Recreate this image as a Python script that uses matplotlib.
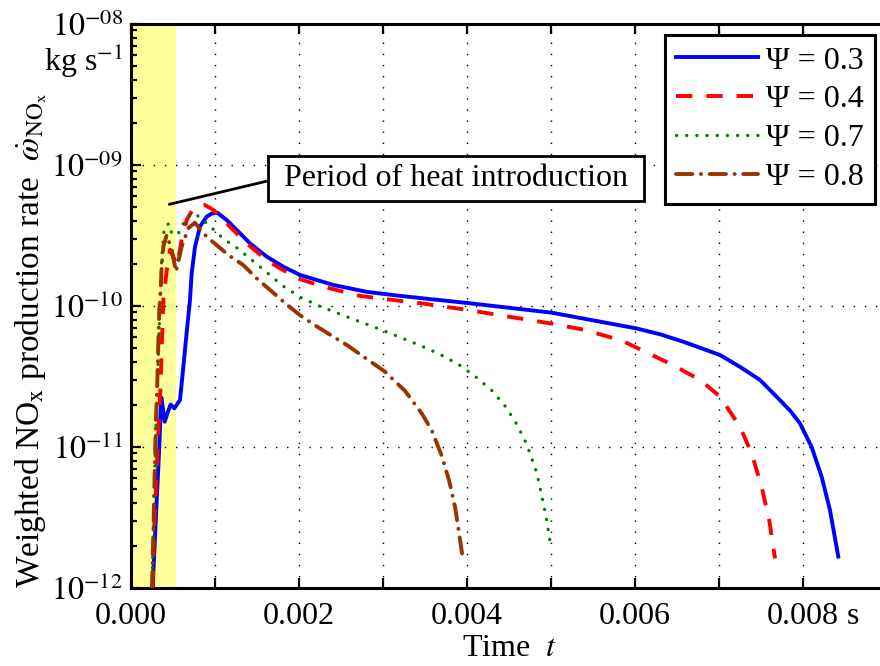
import numpy as np
import matplotlib
matplotlib.use("Agg")
import matplotlib.pyplot as plt
from matplotlib.ticker import FixedLocator, LogLocator, NullFormatter

plt.rcParams["font.family"] = ["Liberation Serif", "DejaVu Serif"]
plt.rcParams["mathtext.fontset"] = "stix"

# values (time in s, rate in kg/s)
t_03 = [0.000258, 0.000306, 0.000337, 0.000357, 0.000362, 0.000401, 0.000440, 0.000472,
        0.000516, 0.000583, 0.000623, 0.000663, 0.000702, 0.000722, 0.000762, 0.000821,
        0.000901, 0.000960, 0.001028, 0.001139, 0.001298, 0.001417, 0.001615, 0.001813,
        0.002012, 0.002409, 0.002806, 0.003202, 0.004004, 0.005008, 0.006008, 0.006300,
        0.006575, 0.007012, 0.007250, 0.007488, 0.007726, 0.007850, 0.007964, 0.008103,
        0.008222, 0.008321, 0.008420]
w_03 = [1.0e-12, 4.2e-12, 1.0e-11, 2.15e-11, 2.24e-11, 1.51e-11, 1.78e-11, 2.0e-11,
        1.88e-11, 2.15e-11, 3.7e-11, 6.5e-11, 1.1e-10, 1.7e-10, 2.63e-10, 3.66e-10,
        4.3e-10, 4.52e-10, 4.59e-10, 4.07e-10, 3.28e-10, 2.78e-10, 2.24e-10, 1.9e-10,
        1.66e-10, 1.41e-10, 1.26e-10, 1.18e-10, 1.05e-10, 8.97e-11, 6.95e-11, 6.3e-11,
        5.58e-11, 4.49e-11, 3.7e-11, 2.99e-11, 2.15e-11, 1.8e-11, 1.47e-11, 1.0e-11,
        6.15e-12, 3.57e-12, 1.67e-12]

t_04 = [0.000258, 0.000274, 0.000325, 0.000353, 0.000365, 0.000385, 0.000425, 0.000464,
        0.000551, 0.000603, 0.000663, 0.000742, 0.000881, 0.000980, 0.001099, 0.001377,
        0.001615, 0.001774, 0.002012, 0.002290, 0.002726, 0.003024, 0.003480, 0.003996,
        0.004552, 0.005008, 0.005385, 0.005841, 0.006008, 0.006456, 0.006774, 0.007012,
        0.007250, 0.007389, 0.007508, 0.007599, 0.007667]
w_04 = [1.02e-12, 2.45e-12, 1.26e-11, 2.83e-11, 4.9e-11, 1.1e-10, 1.78e-10, 2.5e-10,
        1.95e-10, 2.94e-10, 4.07e-10, 4.93e-10, 5.2e-10, 4.8e-10, 4.07e-10, 2.78e-10,
        2.12e-10, 1.85e-10, 1.55e-10, 1.37e-10, 1.18e-10, 1.12e-10, 1.04e-10, 9.4e-11,
        8.3e-11, 7.5e-11, 6.8e-11, 5.7e-11, 5.1e-11, 3.8e-11, 2.99e-11, 2.28e-11,
        1.39e-11, 9.0e-12, 5.2e-12, 3.0e-12, 1.62e-12]

t_07 = [0.000250, 0.000278, 0.000306, 0.000333, 0.000365, 0.000397, 0.000456, 0.000484,
        0.000530, 0.000583, 0.000631, 0.000714, 0.000821, 0.000920, 0.001012, 0.001111,
        0.001206, 0.001317, 0.001417, 0.001607, 0.001806, 0.002020, 0.002242, 0.002500,
        0.002718, 0.002964, 0.003202, 0.003440, 0.003670, 0.003897, 0.004103, 0.004294,
        0.004460, 0.004595, 0.004710, 0.004833, 0.004940, 0.005000]
w_07 = [1.0e-12, 5.5e-12, 1.88e-11, 6.4e-11, 2.18e-10, 3.65e-10, 3.85e-10, 3.28e-10,
        3.16e-10, 3.37e-10, 3.96e-10, 4.54e-10, 4.3e-10, 3.75e-10, 3.37e-10, 2.94e-10,
        2.74e-10, 2.43e-10, 2.17e-10, 1.75e-10, 1.39e-10, 1.15e-10, 1.0e-10, 8.7e-11,
        7.76e-11, 6.84e-11, 6.0e-11, 5.26e-11, 4.57e-11, 3.86e-11, 3.15e-11, 2.52e-11,
        1.93e-11, 1.44e-11, 1.05e-11, 6.5e-12, 3.24e-12, 1.95e-12]

t_08 = [0.000250, 0.000266, 0.000286, 0.000298, 0.000313, 0.000325, 0.000337, 0.000353,
        0.000365, 0.000385, 0.000425, 0.000484, 0.000536, 0.000603, 0.000683, 0.000760,
        0.000901, 0.001159, 0.001337, 0.001496, 0.001655, 0.001833, 0.002012, 0.002190,
        0.002409, 0.002567, 0.003024, 0.003262, 0.003461, 0.003579, 0.003698, 0.003786,
        0.003857, 0.003897, 0.003944]
w_08 = [1.0e-12, 2.45e-12, 8.5e-12, 1.64e-11, 2.83e-11, 5.4e-11, 9.4e-11, 1.3e-10,
        1.9e-10, 2.63e-10, 3.19e-10, 2.5e-10, 1.75e-10, 2.63e-10, 3.56e-10, 3.9e-10,
        3.1e-10, 2.3e-10, 1.95e-10, 1.57e-10, 1.3e-10, 1.05e-10, 8.6e-11, 7.3e-11,
        6.05e-11, 5.3e-11, 3.42e-11, 2.5e-11, 1.73e-11, 1.32e-11, 8.7e-12, 5.8e-12,
        3.78e-12, 2.65e-12, 1.71e-12]

labels = ["Ψ = 0.3", "Ψ = 0.4", "Ψ = 0.7", "Ψ = 0.8"]
heat_end = 0.00053
x_ticks = [0.000, 0.001, 0.002, 0.003, 0.004, 0.005, 0.006, 0.007, 0.008, 0.009]
x_ticklabels = ["0.000", "", "0.002", "", "0.004", "", "0.006", "", "0.008", ""]
y_ticks = [1e-12, 1e-11, 1e-10, 1e-9, 1e-8]
y_ticklabels = ["$10^{-12}$", "$10^{-11}$", "$10^{-10}$", "$10^{-09}$", "$10^{-08}$"]

fs = 23

fig = plt.figure(figsize=(8.8, 6.66), dpi=100)
ax = fig.add_axes([131 / 880, 78 / 666, 756 / 880, 564 / 666])
ax.set_yscale("log")
ax.set_xlim(0, 0.009)
ax.set_ylim(1e-12, 1e-8)

ax.axvspan(0, heat_end, color="#ffff99", lw=0, zorder=0)

ax.plot(t_03, w_03, color="#0000ff", lw=2.8, label=labels[0], zorder=3)
ax.plot(t_04, w_04, color="#ff0000", lw=2.8, linestyle=(0, (4.2, 3.6)), label=labels[1], zorder=3)
ax.plot(t_07, w_07, color="#008000", lw=2.4, linestyle=(0, (0.05, 3.0)),
        dash_capstyle="round", label=labels[2], zorder=3)
ax.plot(t_08, w_08, color="#993300", lw=2.8, linestyle=(0, (4.2, 2.2, 0.05, 2.2)),
        dash_capstyle="round", label=labels[3], zorder=3)

ax.xaxis.set_major_locator(FixedLocator(x_ticks))
ax.set_xticklabels(x_ticklabels)
ax.set_yticks(y_ticks)
ax.set_yticklabels(y_ticklabels)
ax.yaxis.set_minor_locator(LogLocator(base=10, subs=np.arange(2, 10)))
ax.yaxis.set_minor_formatter(NullFormatter())

ax.grid(True, which="major", color="k", lw=1.0, linestyle=(0, (1, 7)))
ax.tick_params(which="both", direction="in", top=True, right=False, labelsize=fs, width=1.6)
ax.tick_params(which="major", length=7)
ax.tick_params(which="minor", length=4)
ax.tick_params(axis="x", pad=10)
ax.tick_params(axis="y", pad=6)
for sp in ax.spines.values():
    sp.set_linewidth(2.2)

# unit after the last x tick label and on top of y axis
ax.annotate("s", xy=(0.008, 0), xycoords=("data", "axes fraction"), xytext=(36, -10),
            textcoords="offset points", ha="center", va="top", fontsize=fs)
ax.annotate("kg s$^{-1}$", xy=(0, 1), xycoords="axes fraction", xytext=(-6, -13),
            textcoords="offset points", ha="right", va="top", fontsize=fs)

ax.set_xlabel("Time  $t$", fontsize=fs, labelpad=2)
ax.set_ylabel(r"Weighted NO$_\mathrm{x}$ production rate  $\dot{\omega}_{\mathrm{NO_x}}$", fontsize=24)
ax.yaxis.set_label_coords(-0.108, 0.44)

ax.annotate(" Period of heat introduction ", xy=(0.000456, 5.26e-10), xytext=(0.003869, 7.96e-10),
            ha="center", va="center", fontsize=fs,
            bbox=dict(boxstyle="square,pad=0.25", fc="white", ec="k", lw=2),
            arrowprops=dict(arrowstyle="-", color="k", lw=2, relpos=(0, 0.5),
                            shrinkA=0, shrinkB=0), zorder=4)

leg = ax.legend(loc="upper right", bbox_to_anchor=(0.984, 0.9805), borderaxespad=0,
                fontsize=fs, handlelength=2.57, handletextpad=0.25, labelspacing=0.3,
                borderpad=0.35, fancybox=False, framealpha=1, edgecolor="k")
leg.get_frame().set_linewidth(2.2)

fig.savefig("out.png", dpi=100)
